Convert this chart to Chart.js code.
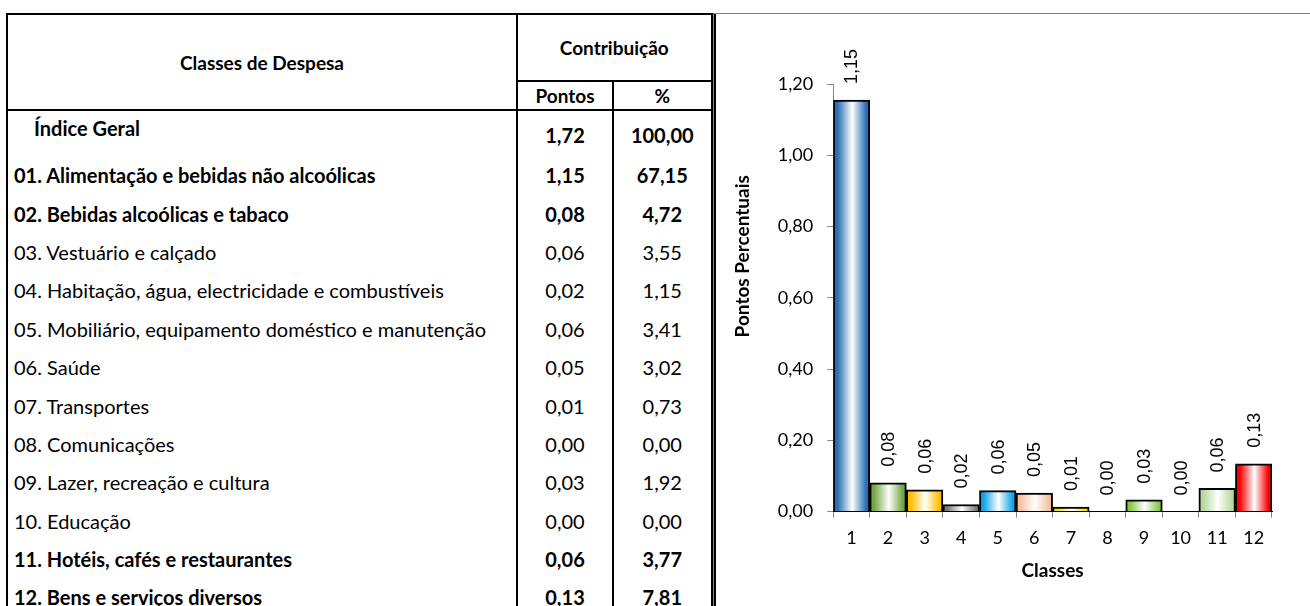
<!DOCTYPE html>
<html lang="pt">
<head>
<meta charset="utf-8">
<title>Contribuição das classes de despesa</title>
<script src="https://cdn.jsdelivr.net/npm/chart.js@4.4.1/dist/chart.umd.min.js"></script>
<style>
  html, body { margin: 0; padding: 0; background: #fff; }
  body { position: relative; width: 1310px; height: 606px; overflow: hidden; font-family: Lato, "Open Sans", sans-serif; color: #000; }
  #tbl { position: absolute; left: 6px; top: 13px; width: 706px; border-collapse: collapse; table-layout: fixed; font-size: 20px; }
  #tbl th, #tbl td { padding: 0; border-left: 2px solid #000; border-right: 2px solid #000; white-space: nowrap; }
  #tbl tr:first-child th { border-top: 2px solid #000; }
  #tbl th { font-size: 19px; font-weight: bold; text-align: center; border-bottom: 2px solid #000; }
  #tbl .last { border-right: 5px double #000; }
  #tbl td.name { text-align: left; padding-left: 6px; }
  #tbl td.num { text-align: center; }
  #tbl tr.b td { font-weight: bold; }
  #tbl tr.first td.name { vertical-align: top; padding-top: 5px; padding-left: 26px; }
  #tbl tr.first td.num { vertical-align: bottom; padding-bottom: 9px; }
  #panel { position: absolute; left: 713px; top: 13px; width: 700px; height: 700px; border: 1px solid #7f7f7f; }
  #chart { position: absolute; left: 0; top: 0; }
</style>
</head>
<body>
<table id="tbl">
  <colgroup><col style="width:510px"><col style="width:96px"><col style="width:100px"></colgroup>
  <thead>
    <tr style="height:67px"><th rowspan="2">Classes de Despesa</th><th colspan="2" class="last">Contribuição</th></tr>
    <tr style="height:29px"><th>Pontos</th><th class="last">%</th></tr>
  </thead>
  <tbody id="rows"></tbody>
</table>
<div id="panel"><canvas id="chart" width="596" height="592"></canvas></div>
<script>
// table data
const classNames = [
  'Índice Geral',
  '01. Alimentação e bebidas não alcoólicas',
  '02. Bebidas alcoólicas e tabaco',
  '03. Vestuário e calçado',
  '04. Habitação, água, electricidade e combustíveis',
  '05. Mobiliário, equipamento doméstico e manutenção',
  '06. Saúde',
  '07. Transportes',
  '08. Comunicações',
  '09. Lazer, recreação e cultura',
  '10. Educação',
  '11. Hotéis, cafés e restaurantes',
  '12. Bens e serviços diversos'
];
const pontos = ['1,72', '1,15', '0,08', '0,06', '0,02', '0,06', '0,05', '0,01', '0,00', '0,03', '0,00', '0,06', '0,13'];
const percent = ['100,00', '67,15', '4,72', '3,55', '1,15', '3,41', '3,02', '0,73', '0,00', '1,92', '0,00', '3,77', '7,81'];
const boldRows = [0, 1, 2, 11, 12];

// chart data
const categories = ['1', '2', '3', '4', '5', '6', '7', '8', '9', '10', '11', '12'];
const barValues = [1.155, 0.081, 0.061, 0.020, 0.059, 0.052, 0.013, 0, 0.033, 0, 0.065, 0.134];
const barLabels = pontos.slice(1);
const yTicks = [0, 0.2, 0.4, 0.6, 0.8, 1.0, 1.2];
const barColors = ['#2A6FB3', '#74A647', '#FFBE00', '#7A7A7A', '#12A6E8', '#F6C2A2', '#E8E800', '#A6A6A6', '#88C94A', '#A6A6A6', '#B9D9A0', '#F80000'];

// build the table
const tbody = document.getElementById('rows');
classNames.forEach((name, i) => {
  const tr = document.createElement('tr');
  tr.style.height = (i === 0 ? 46 : 38.4) + 'px';
  if (i === 0) tr.className = 'first';
  if (boldRows.includes(i)) tr.className += ' b';
  tr.innerHTML = `<td class="name">${name}</td><td class="num">${pontos[i]}</td><td class="num last">${percent[i]}</td>`;
  tbody.appendChild(tr);
});

// horizontal gradient across each bar, white in the middle
function barFill(ctx) {
  const chart = ctx.chart;
  const i = ctx.dataIndex;
  const base = barColors[i];
  if (!chart.chartArea || i === undefined) return base;
  const xs = chart.scales.x;
  const cx = xs.getPixelForValue(i);
  const half = (xs.right - xs.left) / categories.length / 2;
  const g = chart.ctx.createLinearGradient(cx - half, 0, cx + half, 0);
  g.addColorStop(0, base);
  g.addColorStop(0.12, base);
  g.addColorStop(0.52, '#ffffff');
  g.addColorStop(0.9, base);
  g.addColorStop(1, base);
  return g;
}

// vertical value labels above each bar
const valueLabels = {
  id: 'valueLabels',
  afterDatasetsDraw(chart) {
    const ctx = chart.ctx;
    const meta = chart.getDatasetMeta(0);
    ctx.save();
    ctx.font = '18px "Liberation Sans", Arial, sans-serif';
    ctx.fillStyle = '#000';
    ctx.textAlign = 'left';
    ctx.textBaseline = 'middle';
    meta.data.forEach((bar, i) => {
      ctx.save();
      ctx.translate(bar.x + 1, bar.y - 16);
      ctx.rotate(-Math.PI / 2);
      ctx.fillText(barLabels[i], 0, 0);
      ctx.restore();
    });
    ctx.restore();
  }
};

const tickFont = { family: 'Lato', size: 18 };
const titleFont = { family: 'Lato', size: 19, weight: 'bold' };

new Chart(document.getElementById('chart'), {
  type: 'bar',
  data: {
    labels: categories,
    datasets: [{
      data: barValues,
      backgroundColor: barFill,
      borderColor: '#000',
      borderWidth: 2,
      barPercentage: 1,
      categoryPercentage: 1
    }]
  },
  options: {
    responsive: false,
    animation: false,
    devicePixelRatio: 1,
    layout: { padding: { left: 17, top: 70, right: 38, bottom: 24 } },
    plugins: { legend: { display: false }, tooltip: { enabled: false } },
    scales: {
      y: {
        min: 0,
        max: 1.2,
        afterBuildTicks: axis => { axis.ticks = yTicks.map(v => ({ value: v })); },
        ticks: {
          color: '#000',
          font: tickFont,
          padding: 14,
          callback: v => v.toFixed(2).replace('.', ',')
        },
        grid: { drawOnChartArea: false, tickLength: 6, color: '#868686' },
        border: { color: '#868686' },
        title: {
          display: true,
          text: ' '.repeat(18) + 'Pontos Percentuais',
          color: '#000',
          font: titleFont,
          padding: { top: 0, bottom: 10 }
        }
      },
      x: {
        ticks: { color: '#000', font: tickFont, padding: 10, maxRotation: 0 },
        grid: { drawOnChartArea: false, tickLength: 6, color: '#868686' },
        border: { color: '#000' },
        title: {
          display: true,
          text: 'Classes',
          color: '#000',
          font: titleFont,
          padding: { top: 0, bottom: 0 }
        }
      }
    }
  },
  plugins: [valueLabels]
});
</script>
</body>
</html>
